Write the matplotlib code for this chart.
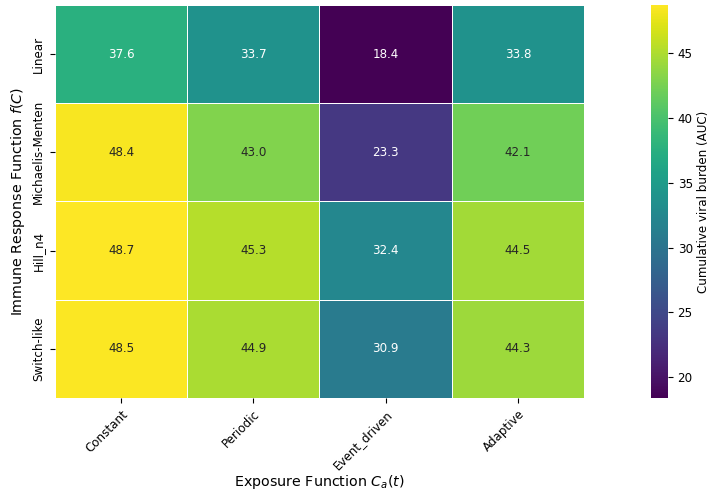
import matplotlib
matplotlib.use("Agg")
import matplotlib.pyplot as plt
import numpy as np
import seaborn as sns

exposure_functions = ["Constant", "Periodic", "Event_driven", "Adaptive"]
immune_responses = ["Linear", "Michaelis-Menten", "Hill_n4", "Switch-like"]

# cumulative viral burden per (immune response, exposure) pair
auc_linear = [37.6, 33.7, 18.4, 33.8]
auc_michaelis = [48.4, 43.0, 23.3, 42.1]
auc_hill = [48.7, 45.3, 32.4, 44.5]
auc_switch = [48.5, 44.9, 30.9, 44.3]

auc = np.array([auc_linear, auc_michaelis, auc_hill, auc_switch])

fig = plt.figure(figsize=(7.09, 4.95), dpi=100)
ax = fig.add_axes([0.0776, 0.196, 0.746, 0.794])
cax = fig.add_axes([0.918, 0.196, 0.024, 0.794])
sns.heatmap(auc, annot=True, fmt=".1f", cmap="viridis", linewidths=0.5,
            linecolor="white", xticklabels=exposure_functions,
            yticklabels=immune_responses, annot_kws={"fontsize": 8.6},
            cbar_ax=cax, ax=ax)
ax.set_xlabel("Exposure Function $C_a(t)$", fontsize=10.3, labelpad=0.5)
ax.set_ylabel("Immune Response Function $f(C)$", fontsize=10.3)
plt.setp(ax.get_xticklabels(), rotation=45, ha="right", rotation_mode="anchor", fontsize=8.6)
plt.setp(ax.get_yticklabels(), fontsize=8.6)
cax.tick_params(labelsize=8.6)
cax.set_ylabel("Cumulative viral burden (AUC)", fontsize=8.6, labelpad=3)

plt.savefig("out.png", dpi=100)
